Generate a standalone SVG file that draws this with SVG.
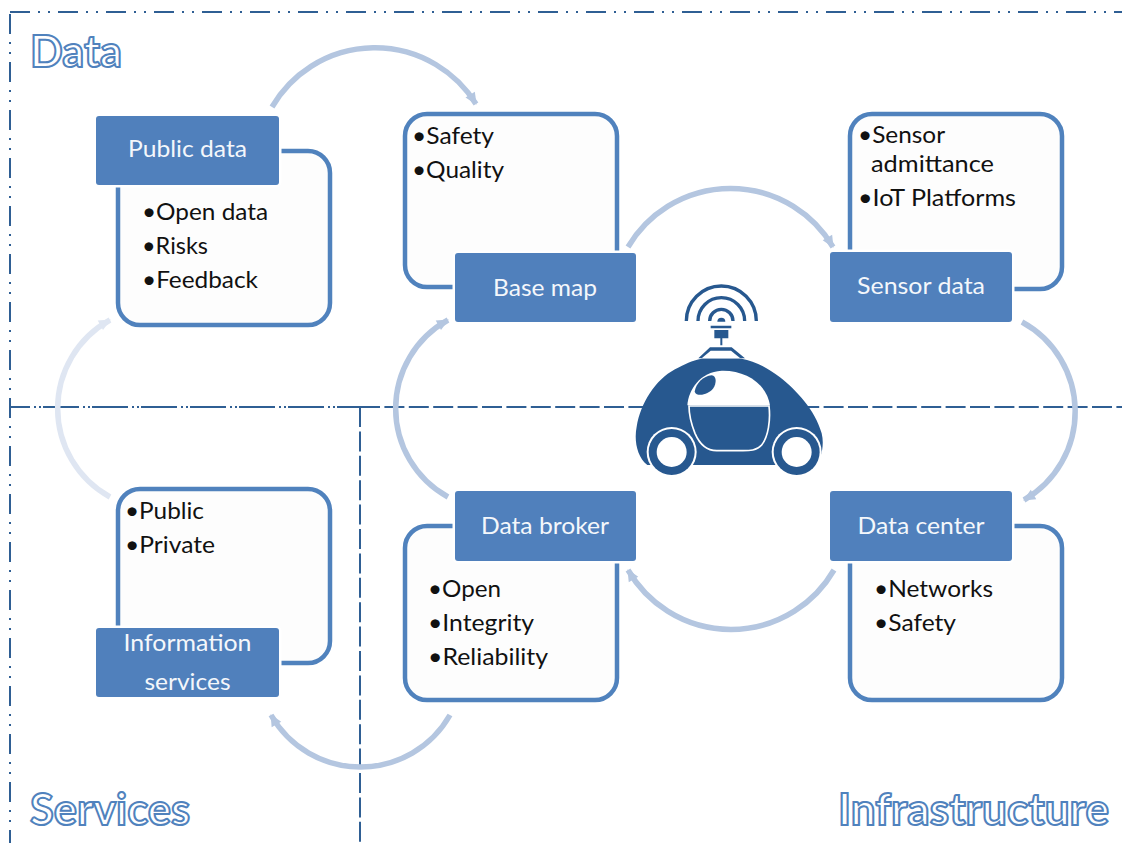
<svg xmlns="http://www.w3.org/2000/svg" width="1122" height="843" viewBox="0 0 1122 843">
<style>
text{font-family:"Lato","Carlito","Open Sans",sans-serif}
.box{fill:#fdfdfd;stroke:#5082bd;stroke-width:4.5}
.hd{fill:#5080bc;stroke:#fff;stroke-width:5;paint-order:stroke}
.ht{fill:#f4f7fb;font-size:23px;text-anchor:middle}
.bt{fill:#111;font-size:24px}
.title{fill:#fff;stroke:#5082bd;stroke-width:2;font-size:43px;font-weight:700}
.arc{fill:none;stroke:#b4c6e0;stroke-width:5.500;marker-end:url(#ah)}
.arcl{fill:none;stroke:#dfe6f2;stroke-width:5.500;marker-end:url(#ahl)}
.ln{fill:none;stroke:#2f5f94;stroke-width:2}
.car{fill:#27588f}
.w{fill:#fff}
</style>
<defs>
<marker id="ah" markerUnits="userSpaceOnUse" markerWidth="14" markerHeight="14" refX="12" refY="7" orient="auto"><path d="M1 1.5L13 7L1 12.5Z" fill="#b4c6e0"/></marker>
<marker id="ahl" markerUnits="userSpaceOnUse" markerWidth="14" markerHeight="14" refX="12" refY="7" orient="auto"><path d="M1 1.5L13 7L1 12.5Z" fill="#dfe6f2"/></marker>
</defs>
<rect width="1122" height="843" fill="#fff"/>
<g id="frame">
<path class="ln" d="M10 12H1122" stroke-dasharray="20 8 2 8 2 8"/>
<path class="ln" d="M10 12V843" stroke-dasharray="20 8 2 8 2 8" stroke-dashoffset="-2"/>
<path class="ln" d="M10 407H360" stroke-dasharray="36 4 2 3 2 2" stroke-dashoffset="16"/>
<path class="ln" d="M360 407H1122" stroke-dasharray="20 4.400"/>
<path class="ln" d="M360 407V843" stroke-dasharray="20 4.400"/>
</g>
<text class="title" x="30" y="67" textLength="92" lengthAdjust="spacingAndGlyphs">Data</text>
<text class="title" x="30" y="825" textLength="160" lengthAdjust="spacingAndGlyphs">Services</text>
<text class="title" x="838" y="825" textLength="271" lengthAdjust="spacingAndGlyphs">Infrastructure</text>
<g id="connectors">
<path class="arc" d="M272 107A119 119 0 0 1 476 104"/>
<path class="arc" d="M628 247A119 119 0 0 1 833 247"/>
<path class="arc" d="M1022 322A102 102 0 0 1 1024 500"/>
<path class="arc" d="M834 570A119 119 0 0 1 628 570"/>
<path class="arc" d="M448 497A101 101 0 0 1 448 320"/>
<path class="arc" d="M450 715A103 103 0 0 1 271 715"/>
<path class="arcl" d="M110 497A101 101 0 0 1 110 320"/>
</g>
<g id="public-data">
<rect class="box" x="118" y="151" width="212" height="174" rx="22"/>
<rect class="hd" x="96" y="116" width="183" height="69" rx="3"/>
<text class="ht" x="187.500" y="157" textLength="119" lengthAdjust="spacingAndGlyphs">Public data</text>
<text class="bt" x="142" y="220" textLength="126" lengthAdjust="spacingAndGlyphs">•Open data</text>
<text class="bt" x="142" y="254" textLength="66" lengthAdjust="spacingAndGlyphs">•Risks</text>
<text class="bt" x="142" y="288" textLength="116" lengthAdjust="spacingAndGlyphs">•Feedback</text>
</g>
<g id="base-map">
<rect class="box" x="405" y="114" width="212" height="173" rx="22"/>
<rect class="hd" x="455" y="253" width="181" height="69" rx="3"/>
<text class="ht" x="545" y="296" textLength="104" lengthAdjust="spacingAndGlyphs">Base map</text>
<text class="bt" x="412" y="144" textLength="82" lengthAdjust="spacingAndGlyphs">•Safety</text>
<text class="bt" x="412" y="178" textLength="92" lengthAdjust="spacingAndGlyphs">•Quality</text>
</g>
<g id="sensor-data">
<rect class="box" x="850" y="114" width="212" height="175" rx="22"/>
<rect class="hd" x="830" y="252" width="182" height="70" rx="3"/>
<text class="ht" x="921" y="294" textLength="128" lengthAdjust="spacingAndGlyphs">Sensor data</text>
<text class="bt" x="858" y="143" textLength="87" lengthAdjust="spacingAndGlyphs">•Sensor</text>
<text class="bt" x="871" y="172" textLength="123" lengthAdjust="spacingAndGlyphs">admittance</text>
<text class="bt" x="858" y="206" textLength="158" lengthAdjust="spacingAndGlyphs">•IoT Platforms</text>
</g>
<g id="data-center">
<rect class="box" x="850" y="526" width="212" height="174" rx="22"/>
<rect class="hd" x="830" y="491" width="182" height="70" rx="3"/>
<text class="ht" x="921" y="534" textLength="127" lengthAdjust="spacingAndGlyphs">Data center</text>
<text class="bt" x="874" y="597" textLength="119" lengthAdjust="spacingAndGlyphs">•Networks</text>
<text class="bt" x="874" y="631" textLength="82" lengthAdjust="spacingAndGlyphs">•Safety</text>
</g>
<g id="data-broker">
<rect class="box" x="405" y="526" width="212" height="174" rx="22"/>
<rect class="hd" x="455" y="491" width="181" height="70" rx="3"/>
<text class="ht" x="545" y="534" textLength="128" lengthAdjust="spacingAndGlyphs">Data broker</text>
<text class="bt" x="428" y="597" textLength="73" lengthAdjust="spacingAndGlyphs">•Open</text>
<text class="bt" x="428" y="631" textLength="106" lengthAdjust="spacingAndGlyphs">•Integrity</text>
<text class="bt" x="428" y="665" textLength="120" lengthAdjust="spacingAndGlyphs">•Reliability</text>
</g>
<g id="information-services">
<rect class="box" x="118" y="489" width="212" height="174" rx="22"/>
<rect class="hd" x="96" y="628" width="183" height="69" rx="3"/>
<text class="ht" x="187.500" y="651" textLength="128" lengthAdjust="spacingAndGlyphs">Information</text>
<text class="ht" x="187.500" y="690" textLength="86" lengthAdjust="spacingAndGlyphs">services</text>
<text class="bt" x="125" y="519" textLength="79" lengthAdjust="spacingAndGlyphs">•Public</text>
<text class="bt" x="125" y="553" textLength="90" lengthAdjust="spacingAndGlyphs">•Private</text>
</g>
<g id="car" transform="translate(620 270) scale(.33333)">
<g fill="none" stroke="#27588f" stroke-width="10">
<path d="M199 153A105 105 0 0 1 409 153"/>
<path d="M234 153A70 70 0 0 1 374 153"/>
<path d="M269 153A35 35 0 0 1 339 153"/>
</g>
<path class="car" d="M292 155A12 12 0 0 1 316 155ZM272 167H334V175H272ZM283 180H325V205H283ZM301 205H307V226H301ZM270 232H335L375 265H235Z"/>
<path class="w" d="M272 242H333L360 264H246Z"/>
<path class="car" d="M82 585C50 560 42 510 50 470C62 400 105 330 165 298C195 282 215 272 245 266H365C400 272 440 290 480 322C530 362 585 420 605 490C615 530 600 570 590 585H85Z"/>
<path class="w" d="M202 406C205 360 240 305 305 302C375 300 440 340 450 406Z"/>
<path class="car" d="M207 408H447C452 450 445 500 425 525C410 543 385 542 365 542H290C260 542 240 525 225 490C215 465 207 430 207 408Z" stroke="#fff" stroke-width="5"/>
<path class="car" d="M224 365C228 340 250 318 275 316C290 318 290 340 280 355C265 375 230 382 224 365Z"/>
<circle cx="155" cy="546" r="75" class="w"/>
<circle cx="530" cy="546" r="75" class="w"/>
<circle cx="155" cy="546" r="69" class="car"/>
<circle cx="530" cy="546" r="69" class="car"/>
<circle cx="155" cy="546" r="45" class="w"/>
<circle cx="530" cy="546" r="45" class="w"/>
</g>
</svg>
